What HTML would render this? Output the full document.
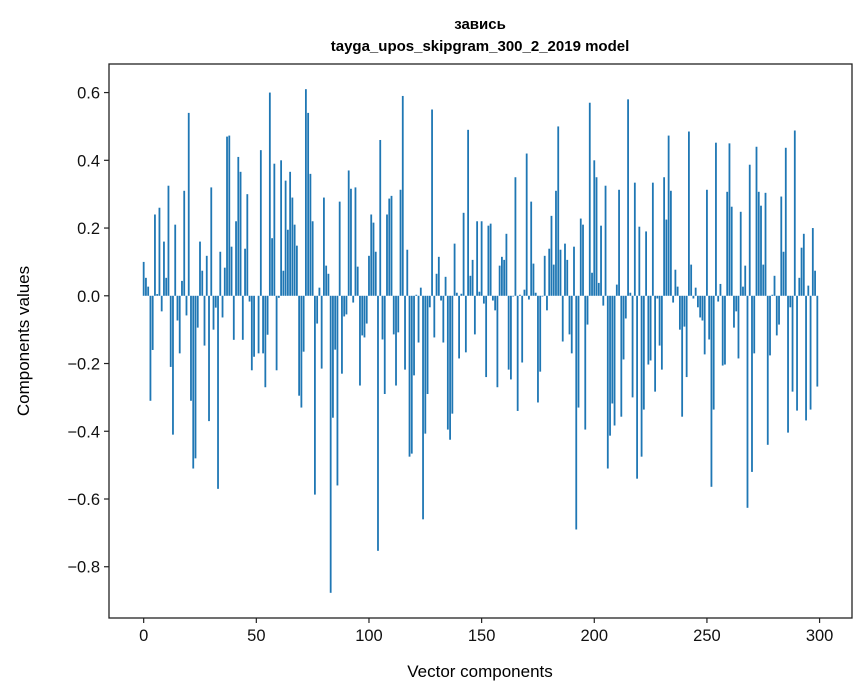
<!DOCTYPE html>
<html><head><meta charset="utf-8"><style>
body{margin:0;background:#fff;}
svg{display:block;font-family:"Liberation Sans","DejaVu Sans",sans-serif;}
</style></head><body>
<svg id="chart" width="867" height="696" viewBox="0 0 867 696" xmlns="http://www.w3.org/2000/svg">
<rect width="867" height="696" fill="#fff"/>
<text x="480" y="29" text-anchor="middle" font-size="15" font-weight="bold">завись</text>
<text x="480" y="51" text-anchor="middle" font-size="15" font-weight="bold">tayga_upos_skipgram_300_2_2019 model</text>
<g id="bars"></g>
<g id="axes"></g>
<text x="480" y="677" text-anchor="middle" font-size="17">Vector components</text>
<text transform="translate(29,341) rotate(-90)" text-anchor="middle" font-size="17">Components values</text>
</svg>
<script>
const values = [
0.10,0.053,0.027,-0.31,-0.16,0.24,0.005,0.26,-0.046,0.16,
0.053,0.325,-0.21,-0.41,0.21,-0.073,-0.17,0.044,0.31,-0.058,
0.54,-0.31,-0.51,-0.48,-0.094,0.16,0.074,-0.147,0.118,-0.37,
0.32,-0.10,-0.035,-0.57,0.13,-0.064,0.083,0.47,0.473,0.145,
-0.13,0.22,0.41,0.366,-0.13,0.139,0.30,-0.017,-0.22,-0.18,
0.0,-0.17,0.43,-0.17,-0.27,-0.115,0.60,0.17,0.39,-0.22,
-0.006,0.40,0.074,0.34,0.195,0.366,0.29,0.21,0.148,-0.295,
-0.33,-0.165,0.61,0.54,0.36,0.22,-0.587,-0.082,0.024,-0.215,
0.29,0.089,0.065,-0.877,-0.36,-0.159,-0.56,0.278,-0.23,-0.061,
-0.055,0.37,0.316,-0.02,0.32,0.086,-0.265,-0.117,-0.123,-0.082,
0.118,0.24,0.216,0.13,-0.753,0.46,-0.129,-0.29,0.24,0.287,
0.295,-0.114,-0.265,-0.108,0.313,0.59,-0.218,0.136,-0.475,-0.466,
-0.235,0.003,-0.138,0.024,-0.66,-0.407,-0.29,-0.034,0.55,-0.123,
0.065,0.115,-0.014,-0.138,0.056,-0.395,-0.425,-0.348,0.154,0.009,
-0.185,0.006,0.245,-0.167,0.49,0.059,0.106,-0.114,0.22,0.012,
0.22,-0.023,-0.24,0.207,0.213,-0.014,-0.043,-0.27,0.089,0.115,
0.106,0.183,-0.218,-0.247,-0.002,0.35,-0.34,0.003,-0.197,0.018,
0.42,-0.011,0.278,0.095,0.009,-0.315,-0.224,-0.002,0.118,-0.043,
0.139,0.236,0.092,0.31,0.50,0.136,-0.135,0.154,0.106,-0.114,
-0.17,0.145,-0.69,-0.33,0.228,0.21,-0.395,-0.085,0.57,0.068,
0.40,0.35,0.038,0.207,-0.029,0.325,-0.51,-0.413,-0.318,-0.383,
0.033,0.313,-0.357,-0.188,-0.067,0.58,0.009,-0.30,0.334,-0.54,
0.204,-0.475,-0.336,0.19,-0.203,-0.191,0.334,-0.283,-0.008,-0.147,
-0.218,0.35,0.225,0.473,0.31,-0.02,0.077,0.027,-0.10,-0.357,
-0.091,-0.24,0.485,0.092,-0.008,0.024,-0.034,-0.064,-0.073,-0.173,
0.313,-0.129,-0.564,-0.336,0.452,-0.017,0.035,-0.206,-0.203,0.307,
0.45,0.263,-0.094,-0.046,-0.185,0.248,0.027,0.089,-0.626,0.387,
-0.52,-0.17,0.44,0.307,0.266,0.092,0.304,-0.44,-0.176,0.003,
0.059,-0.117,-0.085,0.293,0.13,0.437,-0.404,-0.034,-0.283,0.488,
-0.339,0.053,0.142,0.183,-0.368,0.03,-0.336,0.20,0.074,-0.268
];
const xTicks = [0,50,100,150,200,250,300];
const yTicks = [-0.8,-0.6,-0.4,-0.2,0.0,0.2,0.4,0.6];
const yTickLabels = ["\u22120.8","\u22120.6","\u22120.4","\u22120.2","0.0","0.2","0.4","0.6"];

const NS="http://www.w3.org/2000/svg";
const L=109,R=852,T=64,B=618;
const n=values.length;
const xmin=-0.4-0.05*(n-1+0.8), xmax=(n-1+0.4)+0.05*(n-1+0.8);
const vmin=Math.min(0,...values), vmax=Math.max(0,...values);
const ymin=vmin-0.05*(vmax-vmin), ymax=vmax+0.05*(vmax-vmin);
const xs=v=>L+(v-xmin)/(xmax-xmin)*(R-L);
const ys=v=>B-(v-ymin)/(ymax-ymin)*(B-T);
function mk(tag,attrs,parent){const e=document.createElementNS(NS,tag);for(const k in attrs)e.setAttribute(k,attrs[k]);parent.appendChild(e);return e;}
const gb=document.getElementById('bars');
values.forEach((v,i)=>{
  const x0=xs(i-0.4),x1=xs(i+0.4),y0=ys(Math.max(v,0)),y1=ys(Math.min(v,0));
  const r=mk('rect',{x:x0,y:y0,width:x1-x0,height:Math.max(y1-y0,0.01),fill:'#1f77b4'},gb);
  
  
});
const ga=document.getElementById('axes');
const frame=mk('rect',{x:L,y:T,width:R-L,height:B-T,fill:'none',stroke:'#222','stroke-width':1.3},ga);


xTicks.forEach(t=>{
  const x=xs(t);
  mk('line',{x1:x,x2:x,y1:B,y2:B+5,stroke:'#222','stroke-width':1.2},ga);
  const tx=mk('text',{x:x,y:B+23,'text-anchor':'middle','font-size':16.5,fill:'#111'},ga);
  tx.textContent=String(t);
  
  
});
yTicks.forEach((t,i)=>{
  const y=ys(t);
  mk('line',{x1:L-5,x2:L,y1:y,y2:y,stroke:'#222','stroke-width':1.2},ga);
  const tx=mk('text',{x:L-9,y:y+6,'text-anchor':'end','font-size':16.5,fill:'#111'},ga);
  tx.textContent=yTickLabels[i];
  
  
});
</script>
</body></html>
